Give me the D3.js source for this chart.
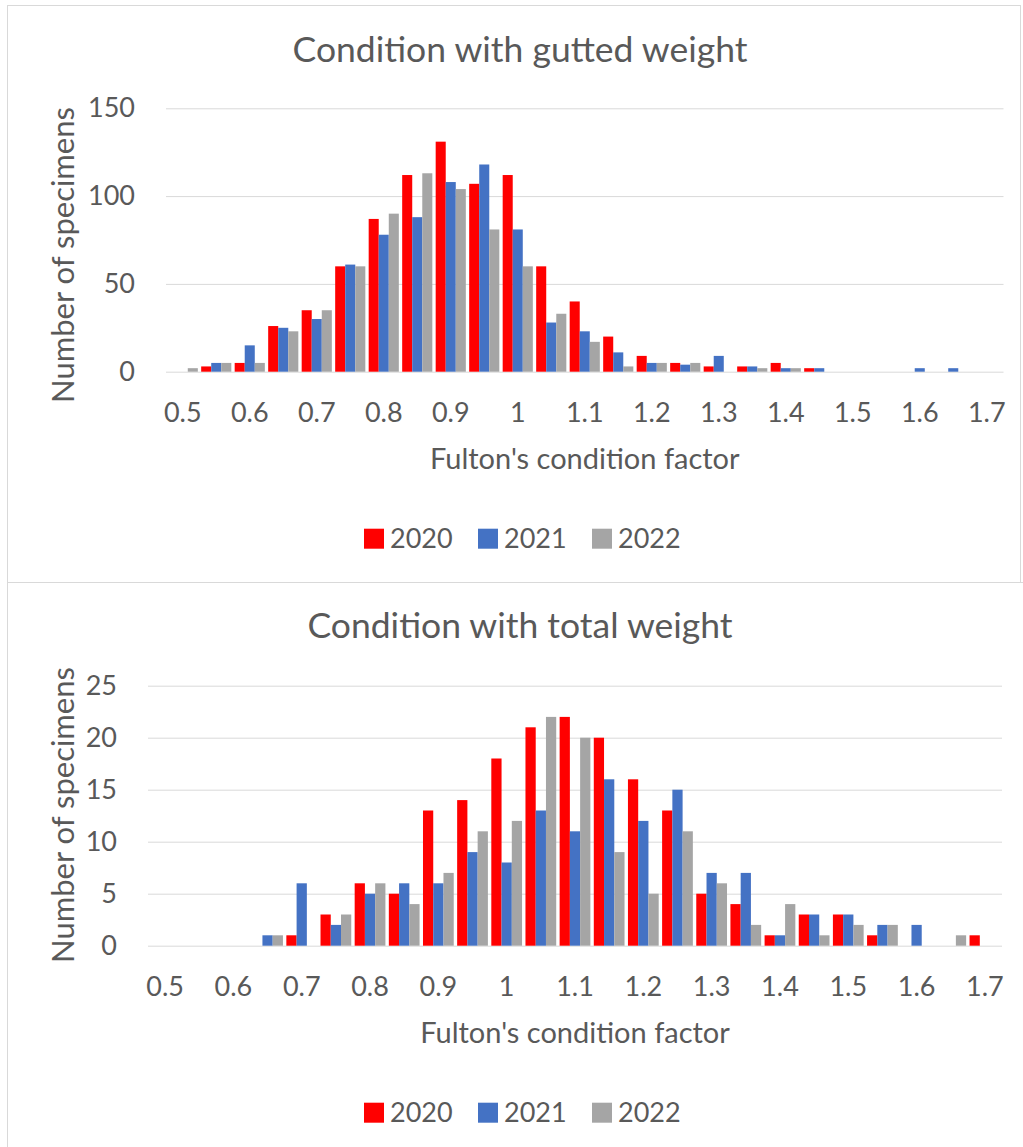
<!DOCTYPE html>
<html>
<head>
<meta charset="utf-8">
<script src="https://cdn.jsdelivr.net/npm/d3@7"></script>
<style>
  body { margin: 0; background: #fff; }
  svg text { font-family: Lato, "Noto Sans", sans-serif; fill: #595959; }
</style>
</head>
<body>
<div id="chart"></div>
<script>
// bins of Fulton's condition factor
const categories = ["0.5", "0.55", "0.6", "0.65", "0.7", "0.75", "0.8", "0.85", "0.9", "0.95",
    "1", "1.05", "1.1", "1.15", "1.2", "1.25", "1.3", "1.35", "1.4", "1.45",
    "1.5", "1.55", "1.6", "1.65", "1.7"];
const years = ["2020", "2021", "2022"];
const yearColors = ["#ff0000", "#4472c4", "#a5a5a5"];

// condition with gutted weight
const gutted2020 = [0, 3, 5, 26, 35, 60, 87, 112, 131, 107, 112, 60, 40, 20, 9, 5, 3, 3, 5, 2, 0, 0, 0, 0, 0];
const gutted2021 = [0, 5, 15, 25, 30, 61, 78, 88, 108, 118, 81, 28, 23, 11, 5, 4, 9, 3, 2, 2, 0, 0, 2, 2, 0];
const gutted2022 = [2, 5, 5, 23, 35, 60, 90, 113, 104, 81, 60, 33, 17, 3, 5, 5, 0, 2, 2, 0, 0, 0, 0, 0, 0];
const guttedTicks = [0, 50, 100, 150];

// condition with total weight
const total2020 = [0, 0, 0, 0, 1, 3, 6, 5, 13, 14, 18, 21, 22, 20, 16, 13, 5, 4, 1, 3, 3, 1, 0, 0, 1];
const total2021 = [0, 0, 0, 1, 6, 2, 5, 6, 6, 9, 8, 13, 11, 16, 12, 15, 7, 7, 1, 3, 3, 2, 2, 0, 0];
const total2022 = [0, 0, 0, 1, 0, 3, 6, 4, 7, 11, 12, 22, 20, 9, 5, 11, 6, 2, 4, 1, 2, 2, 0, 1, 0];
const totalTicks = [0, 5, 10, 15, 20, 25];

const width = 1023, height = 1147;

const svg = d3.select("#chart")
    .append("svg")
    .attr("width", width)
    .attr("height", height);

// panel borders
svg.append("rect")
    .attr("x", 7.5).attr("y", 5.5)
    .attr("width", 1013).attr("height", 577)
    .attr("fill", "none")
    .attr("stroke", "#d9d9d9");
svg.append("path")
    .attr("d", "M7.5,1150V582.5H1023")
    .attr("fill", "none")
    .attr("stroke", "#d9d9d9");

function drawPanel(cfg) {
    const g = svg.append("g");
    const series = cfg.series;

    const x = d3.scaleBand()
        .domain(categories)
        .range([cfg.left, cfg.right])
        .paddingInner(0.1)
        .paddingOuter(0.05);
    const xSub = d3.scaleBand()
        .domain(years)
        .range([0, x.bandwidth()]);
    const y = d3.scaleLinear()
        .domain([0, d3.max(cfg.ticks)])
        .range([cfg.bottom, cfg.top]);

    // title
    g.append("text")
        .attr("x", 520)
        .attr("y", cfg.titleY)
        .attr("text-anchor", "middle")
        .style("font-size", "35.5px")
        .text(cfg.title);

    // gridlines + y labels
    const yAxis = d3.axisLeft(y)
        .tickValues(cfg.ticks)
        .tickSize(-(cfg.right - cfg.left))
        .tickPadding(31);
    g.append("g")
        .attr("transform", `translate(${cfg.left},0)`)
        .call(yAxis)
        .call(a => a.select(".domain").remove())
        .call(a => a.selectAll(".tick line").attr("stroke", "#d9d9d9"))
        .call(a => a.selectAll(".tick text")
            .attr("x", -31)
            .style("font-size", "27px")
            .style("fill", "#595959")
            .style("font-family", "Lato, sans-serif"));

    // x labels, every second bin
    const xAxis = d3.axisBottom(x)
        .tickValues(categories.filter((c, i) => i % 2 === 0))
        .tickSize(0)
        .tickPadding(0);
    g.append("g")
        .attr("transform", `translate(0,${cfg.bottom})`)
        .call(xAxis)
        .call(a => a.select(".domain").remove())
        .call(a => a.selectAll(".tick text")
            .attr("y", 50)
            .attr("dy", 0)
            .style("font-size", "27px")
            .style("fill", "#595959")
            .style("font-family", "Lato, sans-serif"));

    // bars
    const groups = g.append("g")
        .selectAll("g")
        .data(categories)
        .join("g")
        .attr("transform", d => `translate(${x(d)},0)`);
    groups.selectAll("rect")
        .data((d, i) => years.map((yr, k) => ({ year: yr, k: k, value: series[k][i] })))
        .join("rect")
        .attr("x", d => xSub(d.year))
        .attr("width", xSub.bandwidth())
        .attr("y", d => y(d.value))
        .attr("height", d => cfg.bottom - y(d.value))
        .attr("fill", d => yearColors[d.k]);

    // axis titles
    g.append("text")
        .attr("x", (cfg.left + cfg.right) / 2)
        .attr("y", cfg.bottom + 97)
        .attr("text-anchor", "middle")
        .style("font-size", "29px")
        .text("Fulton's condition factor");

    g.append("text")
        .attr("transform", `translate(74,${cfg.yTitleY}) rotate(-90)`)
        .attr("text-anchor", "middle")
        .style("font-size", "31px")
        .text("Number of specimens");

    // legend
    const legend = g.append("g")
        .attr("transform", `translate(364,${cfg.bottom + 157})`);
    const item = legend.selectAll("g")
        .data(years)
        .join("g")
        .attr("transform", (d, i) => `translate(${i * 114},0)`);
    item.append("rect")
        .attr("width", 20)
        .attr("height", 20)
        .attr("fill", (d, i) => yearColors[i]);
    item.append("text")
        .attr("x", 26)
        .attr("y", 19)
        .style("font-size", "27px")
        .text(d => d);
}

drawPanel({
    title: "Condition with gutted weight",
    titleY: 62,
    series: [gutted2020, gutted2021, gutted2022],
    ticks: guttedTicks,
    left: 166, right: 1003.5,
    top: 108.3, bottom: 371.7,
    yTitleY: 255
});

drawPanel({
    title: "Condition with total weight",
    titleY: 638,
    series: [total2020, total2021, total2022],
    ticks: totalTicks,
    left: 148, right: 1002,
    top: 685.7, bottom: 945.7,
    yTitleY: 815
});
</script>
</body>
</html>
